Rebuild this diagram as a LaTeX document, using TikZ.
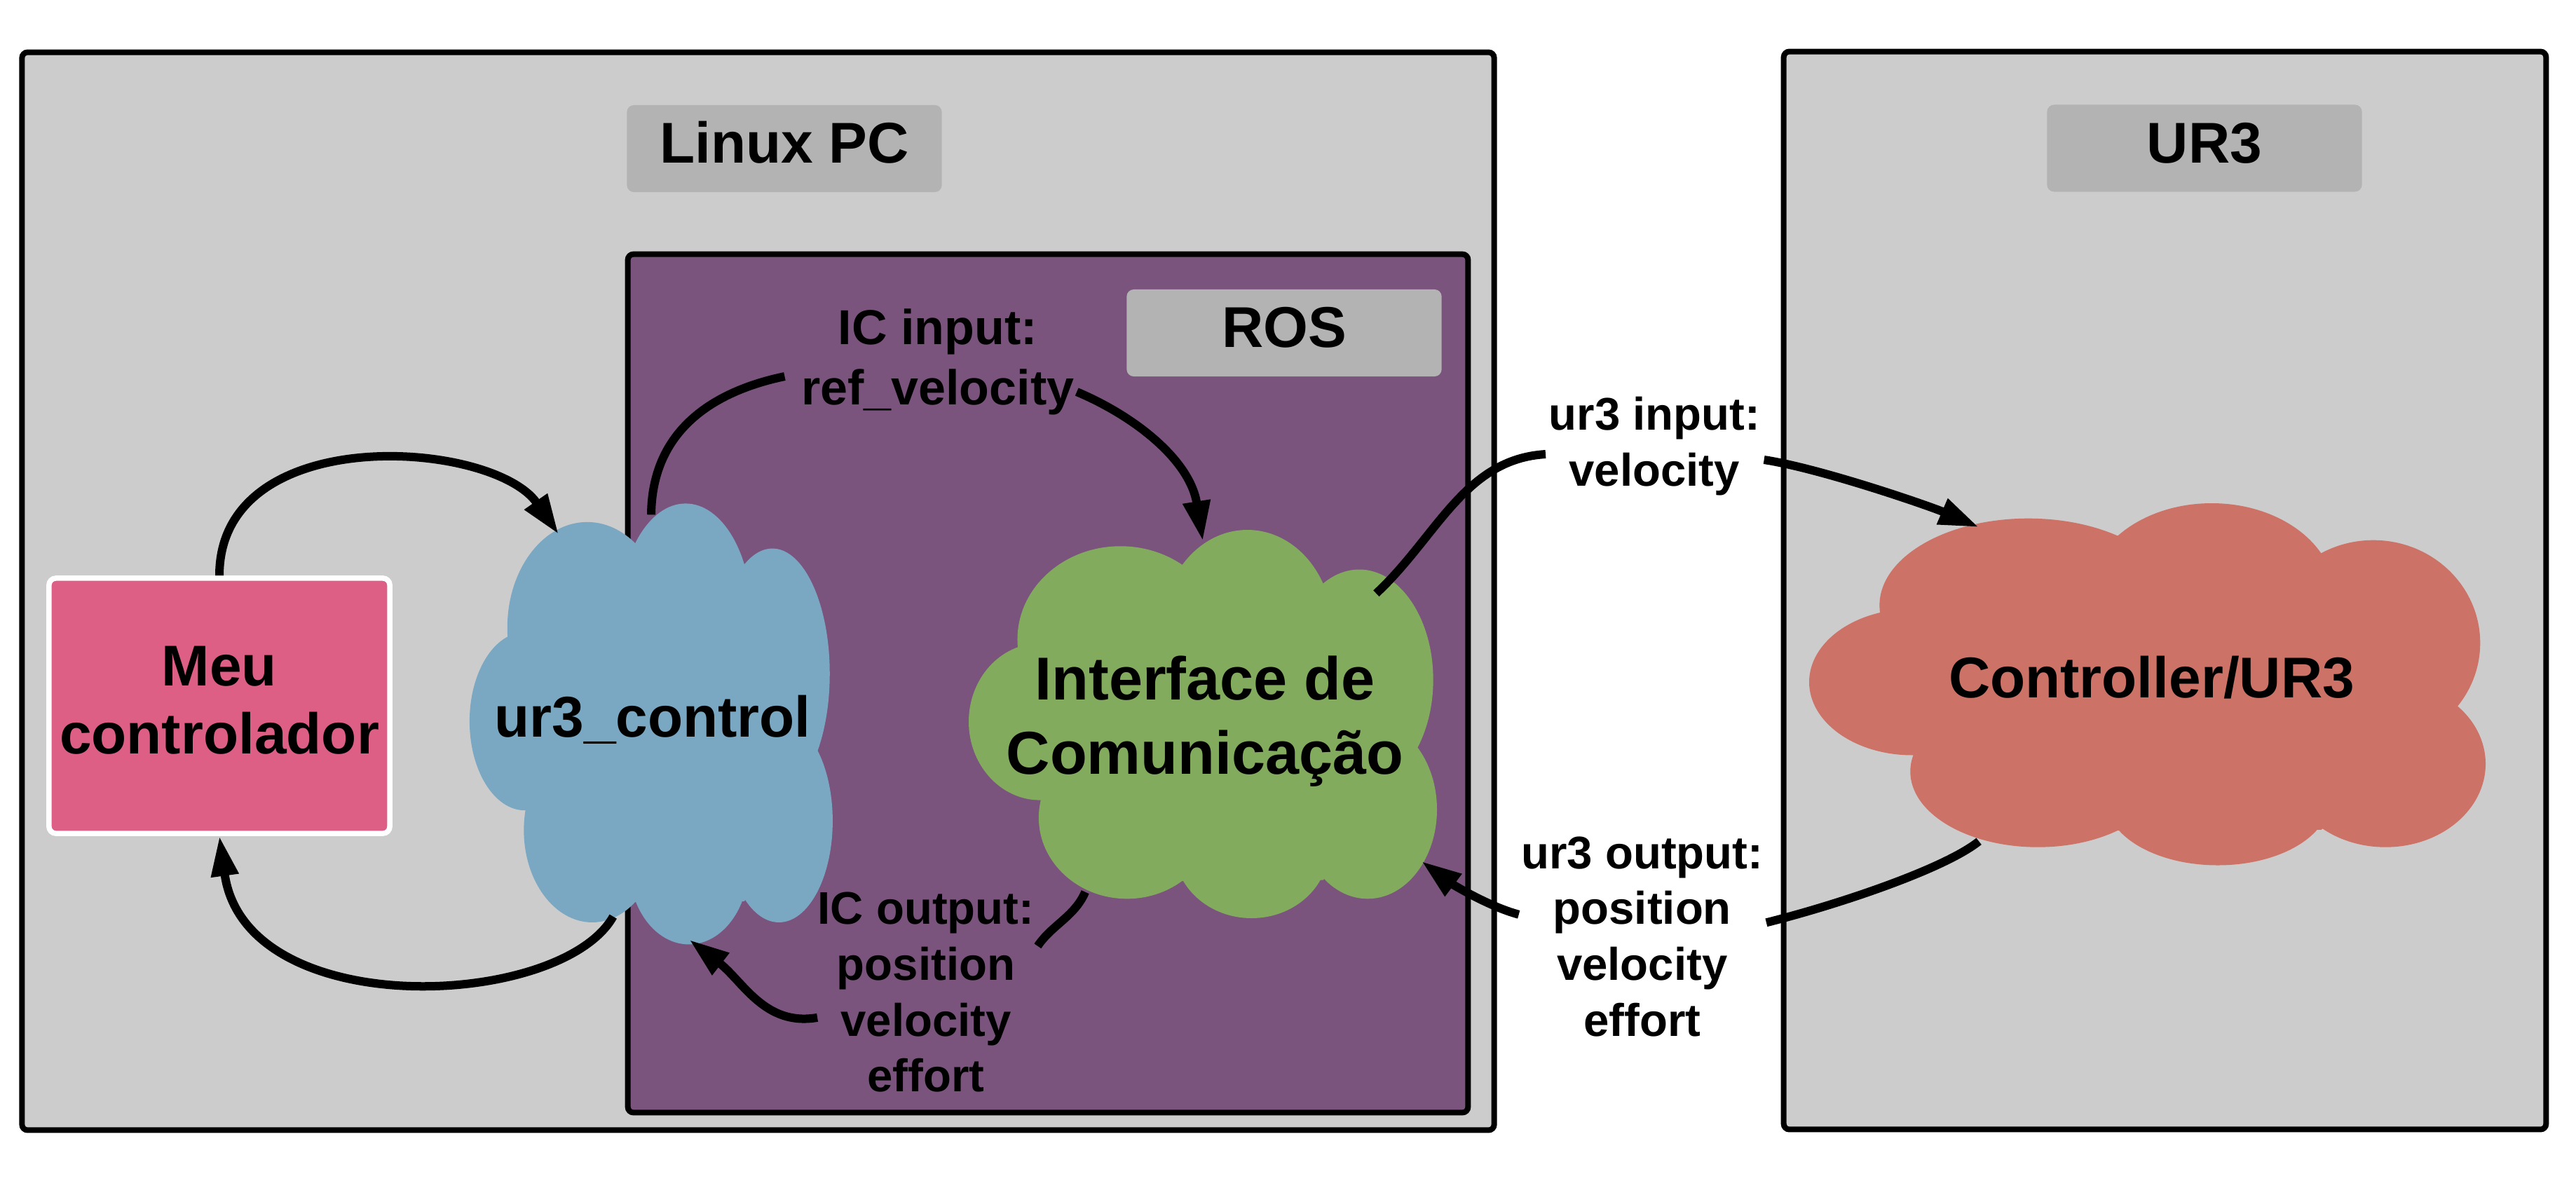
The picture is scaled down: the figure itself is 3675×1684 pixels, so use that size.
\documentclass[tikz,border=0pt]{standalone}
\usepackage{fontspec}
\setmainfont{Liberation Sans}
\usetikzlibrary{arrows.meta,shapes.geometric}

\definecolor{boxgray}{HTML}{CCCCCC}
\definecolor{lblgray}{HTML}{B3B3B3}
\definecolor{rospurple}{HTML}{7B547E}
\definecolor{meupink}{HTML}{DE5F85}
\definecolor{cblue}{HTML}{7AA8C2}
\definecolor{cgreen}{HTML}{83AB5E}
\definecolor{cred}{HTML}{CC7266}

\newcommand\fbig{\fontsize{23.33pt}{27.74pt}\selectfont\bfseries}
\newcommand\fgreen{\fontsize{24.58pt}{29.96pt}\selectfont\bfseries}
\newcommand\ficin{\fontsize{19.92pt}{24.47pt}\selectfont\bfseries}
\newcommand\flab{\fontsize{18.58pt}{22.65pt}\selectfont\bfseries}

% cloud outline: union of lobes, in a 100x100 frame
\newcommand\cloudfill[5]{%
  \begin{scope}[shift={(#2,#3)},xscale=#4/100,yscale=#5/100]
    \fill[#1] (10.5,30.2) -- (45.6,9) -- (75.7,13.8) -- (96.3,55) -- (75.7,90.2) -- (45.6,90.4) -- (15.4,69.6) -- cycle;
    \fill[#1] (15.24,49.4) ellipse [x radius=15.24, y radius=20.2];
    \fill[#1] (32.4,28.2) ellipse [x radius=22, y radius=24];
    \fill[#1] (59.5,25.5) ellipse [x radius=18.2, y radius=25.5];
    \fill[#1] (83.4,38.6) ellipse [x radius=15.8, y radius=28.4];
    \fill[#1] (85.2,72) ellipse [x radius=14.8, y radius=23];
    \fill[#1] (60.4,82) ellipse [x radius=16.5, y radius=18];
    \fill[#1] (33.8,74.1) ellipse [x radius=18.85, y radius=20.9];
  \end{scope}}

\tikzset{
  frame/.style={draw=black, line width=0.08cm, rounded corners=0.08cm, inner sep=0, outer sep=0},
  lblbox/.style={fill=lblgray, rounded corners=0.1cm, minimum width=4.49cm, minimum height=1.24cm,
                 inner sep=0, font=\fbig, text height=0.615cm, text depth=0.205cm},
  meubox/.style={draw=white, line width=0.075cm, fill=meupink, rounded corners=0.1cm,
                 minimum width=4.86cm, minimum height=3.64cm, inner sep=0},
  cloudanchor/.style={ellipse, inner sep=0, outer sep=0, draw=none},
  wire/.style={line width=0.12cm},
  conn/.style={line width=0.12cm, -{Triangle[length=0.57cm,width=0.37cm]}},
  lbl/.style={align=center, inner sep=0}
}

\begin{document}
\begin{tikzpicture}[x=0.01cm,y=-0.01cm]
\useasboundingbox (0,0) rectangle (3675,1684);
\fill[white] (0,0) rectangle (3675,1684);

% frames
\node[frame, fill=boxgray, minimum width=20.99cm, minimum height=15.37cm] (linuxpc) at (1081.5,843.5) {};
\node[frame, fill=boxgray, minimum width=10.87cm, minimum height=15.37cm] (ur3box) at (3088.5,842.5) {};
\node[frame, fill=rospurple, minimum width=11.98cm, minimum height=12.24cm] (ros) at (1495,975) {};

% title labels
\node[lblbox] (linuxlbl) at (1119,212) {Linux PC};
\node[lblbox] (ur3lbl) at (3145,211.5) {UR3};
\node[lblbox] (roslbl) at (1832,475) {ROS};

% controller box
\node[meubox] (meu) at (313,1007) {};
\node[font=\fbig, align=center] (meu-t) at (313,999) {Meu\\controlador};

% clouds
\cloudfill{cblue}{669.9}{718.4}{518}{629}
\cloudfill{cgreen}{1382}{756}{668}{554}
\cloudfill{cred}{2581}{718}{965}{516.5}
\node[cloudanchor, minimum width=5.18cm, minimum height=6.29cm] (ctrl) at (929,1033) {};
\node[cloudanchor, minimum width=6.68cm, minimum height=5.54cm] (ic) at (1716,1033) {};
\node[cloudanchor, minimum width=9.65cm, minimum height=5.165cm] (ctl) at (3063.4,976.2) {};
\node[font=\fbig, anchor=base] (ctrl-t) at (931,1051.5) {ur3\_control};
\node[font=\fgreen, align=center] (ic-t) at (1719,1029) {Interface de\\Comunicação};
\node[font=\fbig, anchor=base] (ctl-t) at (3069.5,995) {Controller/UR3};

% connector labels
\node[lbl, font=\ficin] (icin) at (1337.8,516) {IC input:\\ref\_velocity};
\node[lbl, font=\flab] (icout) at (1321,1415.8) {IC output:\\position\\velocity\\effort};
\node[lbl, font=\flab] (u3in) at (2360.3,636.5) {ur3 input:\\velocity};
\node[lbl, font=\flab] (u3out) at (2342.8,1336.3) {ur3 output:\\position\\velocity\\effort};

% connectors
\draw[conn] (meu.north) .. controls +(0,-221) and +(-94,-135) .. (ctrl.116);
\draw[conn] ([yshift=0.33cm]ctrl.260) .. controls +(-75,132.5) and +(37,267) .. (meu.south);
\draw[wire] ([yshift=-0.16cm]ctrl.north) .. controls +(1,-114.5) and +(-110,23) .. ([xshift=-0.23cm,yshift=-0.21cm]icin.west);
\draw[conn] ([xshift=0.03cm,yshift=-0.43cm]icin.east) .. controls +(84,35.5) and +(-18.4,-115) .. ([yshift=-0.16cm]ic.north);
\draw[wire] (ic.235) .. controls +(-15,35) and +(20,-30) .. ([xshift=0.045cm,yshift=0.66cm]icout.east);
\draw[conn] ([yshift=-0.36cm]icout.west) .. controls +(-75,13) and +(77,59.5) .. (ctrl.280);
\draw[wire] (ic.37) .. controls +(87,-81) and +(-116,7) .. ([xshift=-0.04cm,yshift=-0.115cm]u3in.west);
\draw[conn] ([xshift=0.05cm,yshift=-0.195cm]u3in.east) .. controls +(80,12) and +(-70,-30) .. (ctl.137);
\draw[wire] (ctl.223) .. controls +(-50,40) and +(100,-25) .. ([xshift=0.04cm,yshift=0.2cm]u3out.east);
\draw[conn] ([xshift=-0.03cm,yshift=0.315cm]u3out.west) .. controls +(-45,-12) and +(40,30) .. ([xshift=0.45cm,yshift=-0.29cm]ic.328);
\end{tikzpicture}
\end{document}
